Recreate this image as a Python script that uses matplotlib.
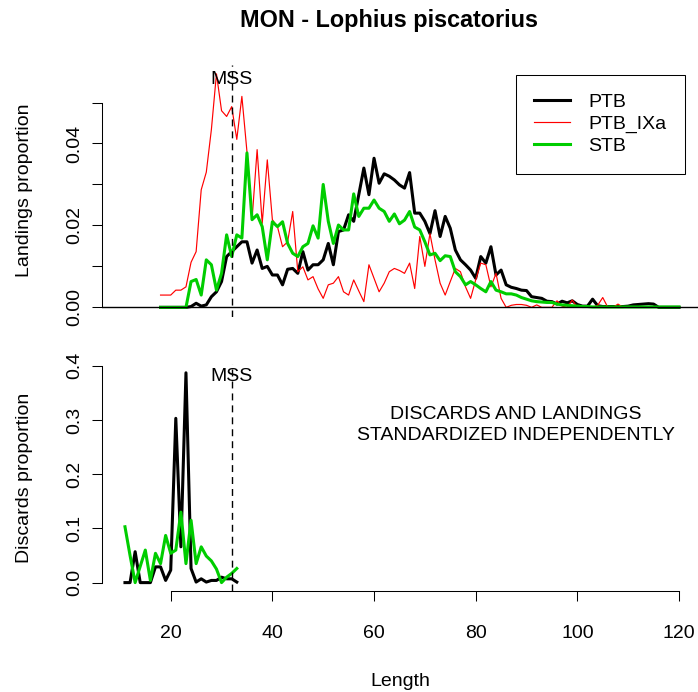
import matplotlib
matplotlib.use("Agg")
import matplotlib.pyplot as plt
from matplotlib.lines import Line2D

plt.rcParams['font.family'] = ['Liberation Sans', 'DejaVu Sans']

# length classes (cm) for the landings panel
land_len = list(range(18, 121))

# landings proportion by fleet
ptb = [0, 0, 0, 0, 0, 0, 0.0002, 0.001, 0.0003, 0.0006,
       0.0026, 0.0038, 0.0063, 0.0124, 0.0136, 0.0148, 0.016, 0.016, 0.0108, 0.014,
       0.0095, 0.010, 0.0079, 0.0079, 0.0055, 0.0093, 0.0095, 0.0083, 0.0136, 0.0091,
       0.0104, 0.0104, 0.0116, 0.0156, 0.0104, 0.0185, 0.0189, 0.0226, 0.021, 0.0275,
       0.034, 0.0275, 0.0364, 0.0303, 0.0326, 0.032, 0.0311, 0.0299, 0.0291, 0.0329,
       0.023, 0.023, 0.021, 0.018, 0.0236, 0.0173, 0.0222, 0.0193, 0.014, 0.0116,
       0.0104, 0.0091, 0.0071, 0.0124, 0.0108, 0.0148, 0.0079, 0.0091, 0.0055, 0.0049,
       0.0046, 0.0042, 0.0041, 0.0026, 0.0024, 0.0022, 0.0015, 0.0014, 0.0008, 0.0015,
       0.0011, 0.0016, 0.0007, 0.0003, 0.0003, 0.002, 0.0004, 0.0002, 0.0002, 0.0002,
       0.0002, 0.0002, 0.0003, 0.0006, 0.0007, 0.0008, 0.0009, 0.0008, 0, 0,
       0, 0, 0]
ptb_ixa = [0.003, 0.003, 0.003, 0.0042, 0.0042, 0.005, 0.011, 0.0136, 0.0287, 0.033,
           0.0434, 0.057, 0.048, 0.0466, 0.049, 0.041, 0.0515, 0.038, 0.0214, 0.0385,
           0.0205, 0.036, 0.0214, 0.0197, 0.0148, 0.016, 0.0234, 0.0087, 0.0099, 0.0067,
           0.0075, 0.0045, 0.0022, 0.0055, 0.0059, 0.0075, 0.0038, 0.003, 0.0067, 0.004,
           0.0014, 0.0104, 0.0071, 0.0038, 0.0059, 0.0087, 0.0095, 0.009, 0.0083, 0.0108,
           0.0046, 0.0173, 0.010, 0.018, 0.0116, 0.0059, 0.003, 0.0063, 0.0095, 0.0087,
           0.005, 0.0022, 0.0067, 0.0108, 0.0104, 0.005, 0.0083, 0.0022, 0, 0.0005,
           0.0007, 0.0007, 0.0005, 0, 0.0006, 0, 0, 0, 0.0016, 0.0003,
           0, 0.0018, 0, 0, 0, 0, 0.0005, 0.0024, 0, 0,
           0.0008, 0, 0, 0, 0, 0, 0, 0, 0, 0,
           0, 0, 0]
stb = [0, 0, 0, 0, 0, 0, 0.0063, 0.0068, 0.003, 0.0116,
       0.0104, 0.0042, 0.0083, 0.0177, 0.0124, 0.0177, 0.0169, 0.0377, 0.0214, 0.0226,
       0.0197, 0.0116, 0.0209, 0.0197, 0.0209, 0.0156, 0.0132, 0.0124, 0.0148, 0.0156,
       0.0199, 0.0169, 0.030, 0.021, 0.0156, 0.0201, 0.0189, 0.0189, 0.0277, 0.0222,
       0.0242, 0.0242, 0.0262, 0.0242, 0.0234, 0.021, 0.0228, 0.0204, 0.0213, 0.0234,
       0.0196, 0.0189, 0.016, 0.0128, 0.0132, 0.0114, 0.0126, 0.0124, 0.0087, 0.0075,
       0.0055, 0.0063, 0.0055, 0.0046, 0.0038, 0.0063, 0.0042, 0.0038, 0.0033, 0.0033,
       0.003, 0.0024, 0.002, 0.0016, 0.0014, 0.0013, 0.0012, 0.0012, 0.0008, 0.0006,
       0.0005, 0.0004, 0.0003, 0.0002, 0.0002, 0.0001, 0.0001, 0.0001, 0.0001, 0.0001,
       0.0001, 0.0001, 0.0001, 0.0001, 0.0001, 0.0001, 0.0001, 0.0001, 0.0001, 0.0001,
       0.0001, 0.0001, 0.0001]

# length classes and proportions for the discards panel
disc_len = list(range(11, 34))
ptb_disc = [0, 0, 0.057, 0, 0, 0, 0.029, 0.029, 0.004, 0.023,
            0.303, 0.066, 0.387, 0.026, 0.001, 0.007, 0.001, 0.004, 0.004, 0.010,
            0.007, 0.007, 0.001]
stb_disc = [0.103, 0.05, 0, 0.03, 0.06, 0.004, 0.054, 0.035, 0.087, 0.054,
            0.06, 0.13, 0.035, 0.115, 0.035, 0.066, 0.049, 0.04, 0.025, 0,
            0.01, 0.017, 0.026]

mss = 32
land_ticks = [0, 0.01, 0.02, 0.03, 0.04, 0.05]
land_tick_labels = ['0.00', '', '0.02', '', '0.04', '']
disc_ticks = [0, 0.1, 0.2, 0.3, 0.4]
disc_tick_labels = ['0.0', '0.1', '0.2', '0.3', '0.4']
len_ticks = [20, 40, 60, 80, 100, 120]

W, H = 698, 692
fs = 14
col_ptb, col_ixa, col_stb = 'black', '#FF0000', '#00CD00'

fig = plt.figure(figsize=(W / 100, H / 100), dpi=100)
ax1 = fig.add_axes([102 / W, 1 - 316.7 / H, 596 / W, (316.7 - 64.5) / H])
ax2 = fig.add_axes([102 / W, 1 - 591 / H, 596 / W, (591 - 364.4) / H])

xlim = (6.48, 123.74)

# --- landings panel
ax1.plot(land_len, ptb, color=col_ptb, lw=2.2)
ax1.plot(land_len, ptb_ixa, color=col_ixa, lw=0.85)
ax1.plot(land_len, stb, color=col_stb, lw=2.2)
ax1.axhline(0, color='black', lw=1.0)
ax1.axvline(mss, color='black', lw=1.0, linestyle=(0, (5, 3.6)))
top_max = max(max(ptb), max(ptb_ixa), max(stb))
ax1.annotate('MSS', (mss, top_max), xytext=(0, -4), textcoords='offset points',
             ha='center', va='center', fontsize=fs)
ax1.set_xlim(*xlim)
ax1.set_ylim(-0.04 * top_max, 1.04 * top_max)
ax1.set_xticks([])
ax1.set_yticks(land_ticks)
ax1.set_yticklabels(land_tick_labels)
for s in ['top', 'right', 'bottom']:
    ax1.spines[s].set_visible(False)
ax1.spines['left'].set_bounds(0, 0.05)

handles = [Line2D([], [], color=col_ptb, lw=2.2),
           Line2D([], [], color=col_ixa, lw=0.85),
           Line2D([], [], color=col_stb, lw=2.2)]
leg = ax1.legend(handles, ['PTB', 'PTB_IXa', 'STB'], loc='upper left',
                 bbox_to_anchor=(516 / W, 1 - 75 / H), bbox_transform=fig.transFigure,
                 fontsize=fs, frameon=True, fancybox=False, framealpha=1,
                 edgecolor='black', borderpad=0.95, handlelength=1.85,
                 handletextpad=0.9, labelspacing=0.22, borderaxespad=0)
leg.get_frame().set_linewidth(0.75)

# --- discards panel
ax2.plot(disc_len, ptb_disc, color=col_ptb, lw=2.2)
ax2.plot(disc_len, stb_disc, color=col_stb, lw=2.2)
ax2.axvline(mss, color='black', lw=1.0, linestyle=(0, (5, 3.6)))
bot_max = max(max(ptb_disc), max(stb_disc))
ax2.annotate('MSS', (mss, bot_max), xytext=(0, -3), textcoords='offset points',
             ha='center', va='center', fontsize=fs)
ax2.set_xlim(*xlim)
ax2.set_ylim(-0.04 * bot_max, 1.04 * bot_max)
ax2.set_xticks(len_ticks)
ax2.set_yticks(disc_ticks)
ax2.set_yticklabels(disc_tick_labels)
for s in ['top', 'right']:
    ax2.spines[s].set_visible(False)
ax2.spines['left'].set_bounds(0, 0.4)
ax2.spines['bottom'].set_bounds(20, 120)

for ax in (ax1, ax2):
    for s in ax.spines.values():
        s.set_linewidth(0.75)
    ax.tick_params(direction='out', length=7.2, width=0.75, labelsize=fs)
    ax.tick_params(axis='y', labelrotation=90, pad=6)
    for lab in ax.get_yticklabels():
        lab.set_va('center')
ax2.tick_params(axis='x', pad=17)

fig.text(516 / W, 1 - 425 / H, 'DISCARDS AND LANDINGS\nSTANDARDIZED INDEPENDENTLY',
         ha='center', va='center', multialignment='center', fontsize=fs, linespacing=1.3)

# titles and axis labels
fig.text(389 / W, 1 - 20 / H, 'MON - Lophius piscatorius', ha='center', va='center',
         fontsize=16.8, fontweight='bold')
fig.text(400 / W, 1 - 681 / H, 'Length', ha='center', va='center', fontsize=fs)
fig.text(25 / W, 1 - 190 / H, 'Landings proportion', ha='center', va='center',
         rotation=90, fontsize=fs)
fig.text(25 / W, 1 - 478 / H, 'Discards proportion', ha='center', va='center',
         rotation=90, fontsize=fs)

fig.savefig('out.png', dpi=100)
